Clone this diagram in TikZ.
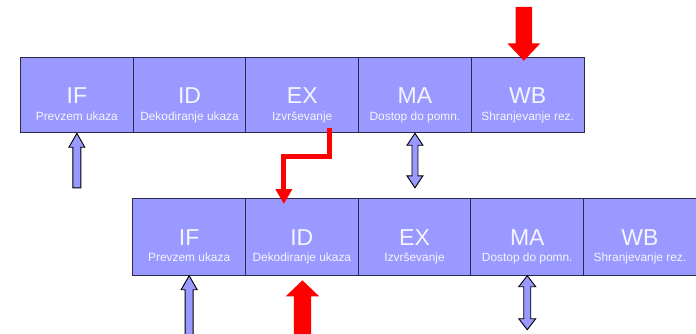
\documentclass[tikz,border=0pt]{standalone}
\usepackage{fontspec}
\setmainfont{Liberation Sans}
\usetikzlibrary{calc,arrows.meta}
\definecolor{lav}{HTML}{9999FF}
\definecolor{edgec}{HTML}{2A2A48}
\definecolor{txtc}{HTML}{F5F5FF}
\definecolor{redc}{HTML}{FF0000}
% #1 style, #2 tip coordinate, #3 tail offset (signed), #4 half shaft, #5 half head, #6 head length (signed)
\newcommand\BlkArrow[6]{%
  \path[#1] (#2) -- ($(#2)+(#5,#6)$) -- ($(#2)+(#4,#6)$) -- ($(#2)+(#4,#3)$)
    -- ($(#2)+(-#4,#3)$) -- ($(#2)+(-#4,#6)$) -- ($(#2)+(-#5,#6)$) -- cycle;}
% #1 style, #2 top tip, #3 length, #4 half shaft, #5 half head, #6 head length
\newcommand\BlkDouble[6]{%
  \path[#1] (#2) -- ($(#2)+(#5,#6)$) -- ($(#2)+(#4,#6)$) -- ($(#2)+(#4,#3-#6)$)
    -- ($(#2)+(#5,#3-#6)$) -- ($(#2)+(0,#3)$) -- ($(#2)+(-#5,#3-#6)$)
    -- ($(#2)+(-#4,#3-#6)$) -- ($(#2)+(-#4,#6)$) -- ($(#2)+(-#5,#6)$) -- cycle;}
\begin{document}
\begin{tikzpicture}[x=1pt,y=-1pt,
  stage/.style={draw=edgec, line width=1pt, fill=lav, minimum width=112.7pt,
    minimum height=#1, inner sep=0pt, anchor=north west},
  big/.style={text=txtc, font=\fontsize{23}{24}\selectfont, anchor=base, inner sep=0pt},
  small/.style={text=txtc, font=\fontsize{11.9}{13}\selectfont, anchor=base, inner sep=0pt},
  lavarrow/.style={fill=lav, draw=black, line width=0.9pt, line join=miter},
  redarrow/.style={fill=redc},
  redline/.style={draw=redc, line width=5pt, line join=miter,
    -{Triangle[width=16pt,length=15pt]}}]
\useasboundingbox (0,0) rectangle (696,334);
\foreach \i/\a/\b in {1/IF/Prevzem ukaza, 2/ID/Dekodiranje ukaza, 3/EX/Izvr\v{s}evanje,
                      4/MA/Dostop do pomn., 5/WB/Shranjevanje rez.}{
  \node[stage=75pt] (t\i) at ({20+(\i-1)*112.7},57.3) {};
  \node[big] (tl\i) at ($(t\i.north)+(0,46.5)$) {\a};
  \node[small] (ts\i) at ($(t\i.north)+(0,63)$) {\b};
  \node[stage=77pt] (b\i) at ({132.3+(\i-1)*112.7},197.7) {};
  \node[big] (bl\i) at ($(b\i.north)+(0,47.6)$) {\a};
  \node[small] (bs\i) at ($(b\i.north)+(0,63.4)$) {\b};
}
% lavender up arrows
\BlkArrow{lavarrow}{t1.south}{54.5}{4}{8}{14}
\BlkArrow{lavarrow}{b1.south}{62}{4}{8}{14}
% double arrows
\BlkDouble{lavarrow}{t4.south}{54.5}{3}{8}{12}
\BlkDouble{lavarrow}{b4.south}{54}{3.5}{8.5}{11}
% red block arrows
\coordinate (wbtip) at ($(t5.north)+(-3.8,3.4)$);
\BlkArrow{redarrow}{wbtip}{-53.7}{8.2}{16.5}{-17.4}
\coordinate (idtip) at ($(b2.south)+(0.6,4.6)$);
\BlkArrow{redarrow}{idtip}{60}{8.7}{16.7}{16}
% red forwarding connector
\coordinate (rs) at ($(t3.south)+(27,-5.6)$);
\coordinate (re) at ($(b2.north)+(-18,6.3)$);
\draw[redline] (rs) -- ($(rs)+(0,29)$) -| (re);
\end{tikzpicture}
\end{document}
